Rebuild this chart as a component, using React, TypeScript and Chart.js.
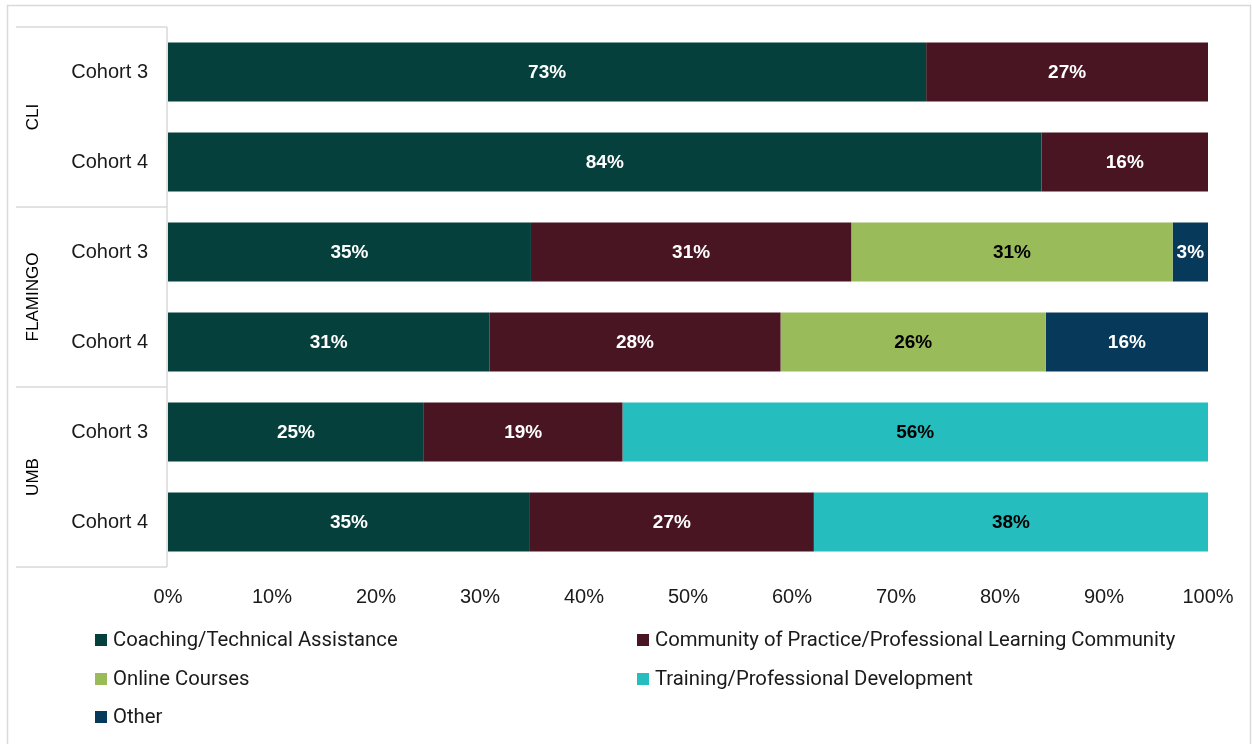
import React, { useEffect, useRef } from "react";
import { Chart, registerables } from "chart.js";

Chart.register(...registerables);

// Row labels (bottom of each program group) and the program groups they belong to
const cohortLabels = ["Cohort 3", "Cohort 4", "Cohort 3", "Cohort 4", "Cohort 3", "Cohort 4"];
const programs = ["CLI", "FLAMINGO", "UMB"];

// Share of each support type, in percent, one value per row
const coaching = [72.9, 84.0, 34.9, 30.9, 24.6, 34.8];
const community = [27.1, 16.0, 30.8, 28.0, 19.1, 27.3];
const onlineCourses = [0, 0, 30.9, 25.5, 0, 0];
const training = [0, 0, 0, 0, 56.3, 37.9];
const other = [0, 0, 3.4, 15.6, 0, 0];

const seriesNames = [
  "Coaching/Technical Assistance",
  "Community of Practice/Professional Learning Community",
  "Online Courses",
  "Training/Professional Development",
  "Other",
];
const seriesColors = ["#05403C", "#4A1522", "#9ABB59", "#25BDBD", "#073A5A"];
const labelColors = ["#FFFFFF", "#FFFFFF", "#000000", "#000000", "#FFFFFF"];

const FONT = "'Liberation Sans', Arial, sans-serif";
const LEGEND_FONT = "Roboto, 'Noto Sans', sans-serif";
const LINE = "#D9D9D9";

// Outer frame drawn behind everything
const framePlugin = {
  id: "frame",
  beforeDraw(chart: any) {
    const { ctx } = chart;
    ctx.save();
    ctx.strokeStyle = LINE;
    ctx.lineWidth = 1.5;
    ctx.strokeRect(7.5, 5.5, chart.width - 9, chart.height + 10);
    ctx.restore();
  },
};

// Program group boxes and rotated group names on the left of the rows
const groupPlugin = {
  id: "groups",
  afterDraw(chart: any) {
    const { ctx, chartArea } = chart;
    const y = chart.scales.y;
    const left = 16;
    const right = chartArea.left - 1;
    const step = (chartArea.bottom - chartArea.top) / cohortLabels.length;
    ctx.save();
    ctx.strokeStyle = LINE;
    ctx.lineWidth = 1.5;
    ctx.beginPath();
    ctx.moveTo(right, chartArea.top);
    ctx.lineTo(right, chartArea.bottom);
    for (let g = 0; g <= programs.length; g++) {
      const yy = chartArea.top + g * 2 * step;
      ctx.moveTo(left, yy);
      ctx.lineTo(right, yy);
    }
    ctx.stroke();
    ctx.fillStyle = "#000";
    ctx.font = `17px ${FONT}`;
    ctx.textAlign = "center";
    ctx.textBaseline = "middle";
    programs.forEach((p, g) => {
      const yc = (y.getPixelForValue(g * 2) + y.getPixelForValue(g * 2 + 1)) / 2;
      ctx.save();
      ctx.translate(33, yc);
      ctx.rotate(-Math.PI / 2);
      ctx.fillText(p, 0, 0);
      ctx.restore();
    });
    ctx.restore();
  },
};

// Percent labels centred inside each segment
const valueLabelPlugin = {
  id: "valueLabels",
  afterDatasetsDraw(chart: any) {
    const { ctx } = chart;
    ctx.save();
    ctx.font = `bold 19px ${FONT}`;
    ctx.textAlign = "center";
    ctx.textBaseline = "middle";
    chart.data.datasets.forEach((ds: any, i: number) => {
      const meta = chart.getDatasetMeta(i);
      meta.data.forEach((bar: any, j: number) => {
        const v = ds.data[j];
        if (!v) return;
        ctx.fillStyle = labelColors[i];
        ctx.fillText(`${Math.round(v)}%`, (bar.x + bar.base) / 2, bar.y + 1);
      });
    });
    ctx.restore();
  },
};

// Two-column legend under the axis
const legendPlugin = {
  id: "gridLegend",
  afterDraw(chart: any) {
    const { ctx } = chart;
    const cols = [95, 637];
    const rows = [640, 679, 717];
    ctx.save();
    ctx.font = `20.3px ${LEGEND_FONT}`;
    ctx.textBaseline = "middle";
    ctx.textAlign = "left";
    chart.data.datasets.forEach((ds: any, i: number) => {
      const x = cols[i % 2];
      const y = rows[Math.floor(i / 2)];
      ctx.fillStyle = ds.backgroundColor;
      ctx.fillRect(x, y - 6, 12, 12);
      ctx.fillStyle = "#1a1a1a";
      ctx.fillText(ds.label, x + 18, y + 1);
    });
    ctx.restore();
  },
};

export default function App() {
  const canvasRef = useRef<HTMLCanvasElement | null>(null);

  useEffect(() => {
    if (!canvasRef.current) return;
    const series = [coaching, community, onlineCourses, training, other];
    const chart = new Chart(canvasRef.current, {
      type: "bar",
      data: {
        labels: cohortLabels,
        datasets: series.map((data, i) => ({
          label: seriesNames[i],
          data,
          backgroundColor: seriesColors[i],
          borderWidth: 0,
          categoryPercentage: 1,
          barPercentage: 0.656,
        })),
      },
      options: {
        indexAxis: "y",
        animation: false,
        responsive: true,
        maintainAspectRatio: false,
        layout: { padding: { top: 27, right: 44, left: 0, bottom: 0 } },
        plugins: {
          legend: { display: false },
          tooltip: { enabled: false },
        },
        scales: {
          x: {
            stacked: true,
            min: 0,
            max: 100,
            grid: { display: false, drawTicks: true, tickLength: 18 },
            border: { display: false },
            ticks: {
              stepSize: 10,
              padding: 0,
              color: "#1a1a1a",
              font: { family: FONT, size: 20 },
              callback: (v: any) => `${v}%`,
            },
            afterFit: (scale: any) => {
              scale.height = 177;
            },
          },
          y: {
            stacked: true,
            grid: { display: false, drawTicks: true, tickLength: 20 },
            border: { display: false },
            ticks: {
              padding: 0,
              color: "#1a1a1a",
              font: { family: FONT, size: 20 },
            },
            afterFit: (scale: any) => {
              scale.width = 168;
            },
          },
        },
      },
      plugins: [framePlugin, groupPlugin, valueLabelPlugin, legendPlugin],
    });
    return () => chart.destroy();
  }, []);

  return (
    <div style={{ position: "absolute", left: 0, top: 0, width: 1252, height: 744, background: "#fff" }}>
      <canvas ref={canvasRef} />
    </div>
  );
}
